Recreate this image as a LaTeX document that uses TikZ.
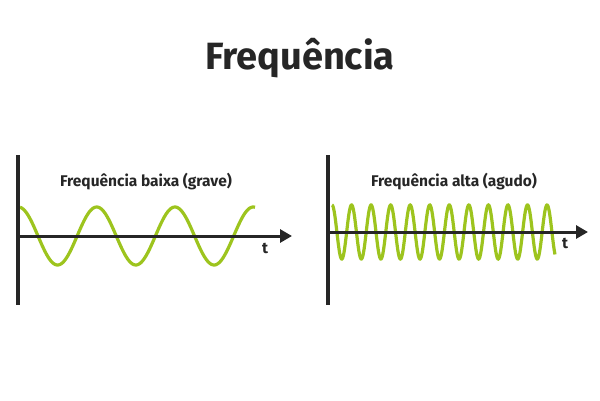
\documentclass[tikz,border=0pt]{standalone}
\usepackage{fontspec}
\setmainfont{Fira Sans}
\usetikzlibrary{arrows.meta}
\definecolor{dk}{HTML}{262626}
\definecolor{gr}{HTML}{9DC41E}
\begin{document}
\begin{tikzpicture}[x=1pt,y=-1pt,
  axis/.style={dk,line width=3.5pt},
  arr/.style={dk,line width=3pt,-{Triangle[length=12pt,width=13pt]}},
  wave/.style={gr,line width=3.2pt},
  lbl/.style={font=\bfseries\fontsize{15.5}{18}\selectfont,text=dk}]
\useasboundingbox (0,0) rectangle (600,400);
\node[font=\bfseries\fontsize{38}{44}\selectfont,text=dk] (title) at (300,58) {Frequência};
% left
\coordinate (l0) at (18,236); \coordinate (l1) at (292,236);
\draw[wave] plot[domain=20:255,samples=200,smooth] (\x,{236-29*cos(4.6*(\x-96.7))});
\draw[arr] (l0) -- (l1);
\draw[axis] (18,155) -- (18,305);
\node[lbl] (lt) at (146,182) {Frequência baixa (grave)};
\node[lbl] (ltt) at (265,248) {t};
% right
\coordinate (r0) at (328,232); \coordinate (r1) at (588,232);
\draw[wave] plot[domain=332:555,samples=500,smooth] (\x,{232-27*cos(18.414*(\x-332))});
\draw[arr] (r0) -- (r1);
\draw[axis] (328,155) -- (328,305);
\node[lbl] (rt) at (454,182) {Frequência alta (agudo)};
\node[lbl] (rtt) at (565,243) {t};
\end{tikzpicture}
\end{document}
